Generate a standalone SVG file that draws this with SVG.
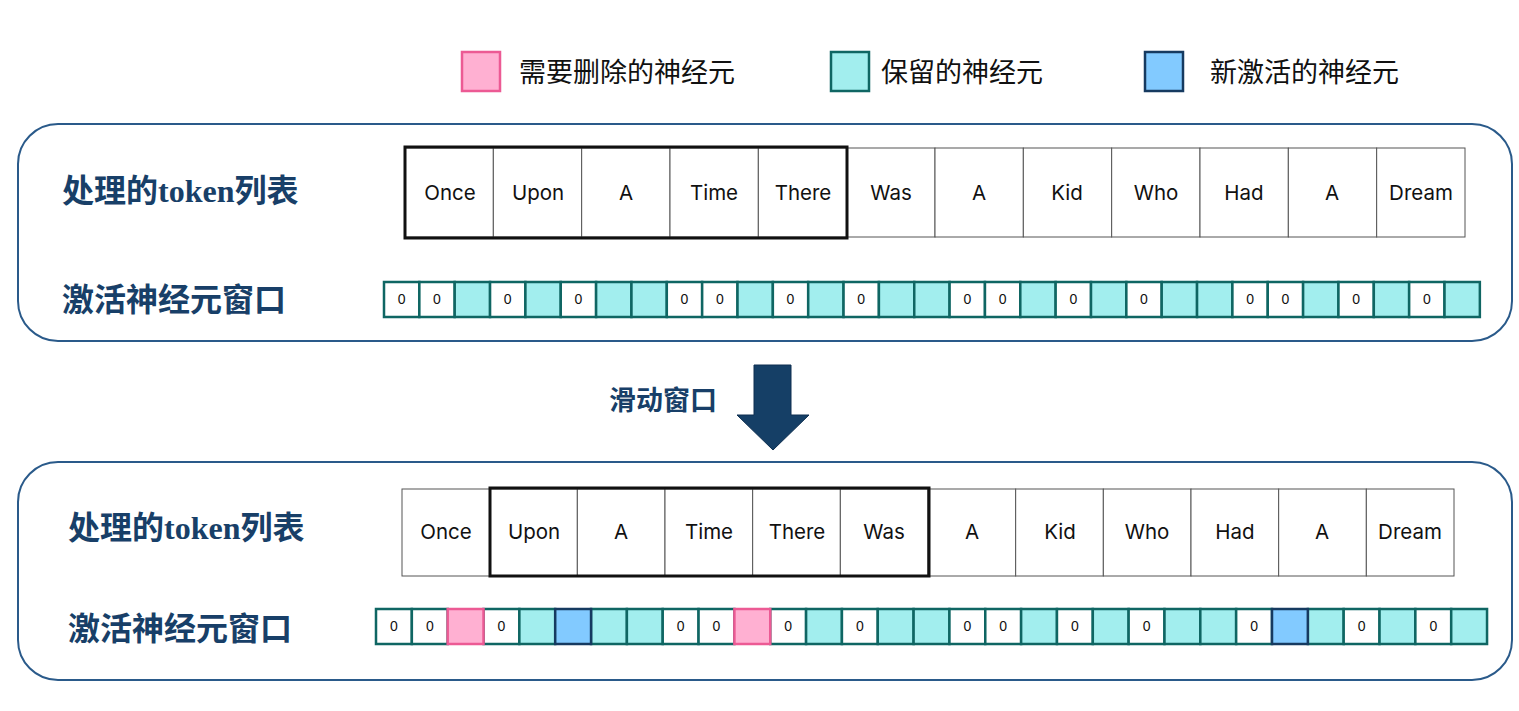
<svg xmlns="http://www.w3.org/2000/svg" width="1519" height="711" viewBox="0 0 1519 711">
<style>
.panel{fill:#fff;stroke:#2a5a8a;stroke-width:2}
.lbl{font-family:"Noto Sans CJK SC","Liberation Sans",sans-serif;font-weight:700;font-size:32px;fill:#183f68}
.tk{font-family:"Liberation Serif",serif;font-weight:700}
.leg{font-family:"Noto Sans CJK SC",sans-serif;font-size:27px;fill:#111}
.tok{fill:#fff;stroke:#555;stroke-width:1}
.tokt{font-family:Inter,"Liberation Sans",sans-serif;font-size:20.5px;fill:#111;text-anchor:middle}
.win{fill:none;stroke:#111;stroke-width:3}
.z{fill:#fff;stroke:#0f6663;stroke-width:2.5}
.t{fill:#a2eeee;stroke:#0f6663;stroke-width:2.5}
.p{fill:#ffb0d2;stroke:#ec5a94;stroke-width:2.5}
.b{fill:#82caff;stroke:#163a60;stroke-width:2.5}
.zt{font-family:"Liberation Sans",sans-serif;font-size:14px;fill:#111;text-anchor:middle}
</style>
<rect width="1519" height="711" fill="#fff"/>
<g id="legend">
<rect x="462" y="52" width="38" height="39" fill="#ffb0d2" stroke="#ec5a94" stroke-width="2.5"/>
<text class="leg" x="519" y="82">需要删除的神经元</text>
<rect x="831" y="52" width="38" height="39" fill="#a2eeee" stroke="#0f6663" stroke-width="2.5"/>
<text class="leg" x="881" y="82">保留的神经元</text>
<rect x="1145" y="52" width="38" height="39" fill="#82caff" stroke="#163a60" stroke-width="2.5"/>
<text class="leg" x="1210" y="82">新激活的神经元</text>
</g>
<g id="top-panel">
<rect class="panel" x="18" y="124" width="1494" height="217" rx="40"/>
<text class="lbl" x="62" y="202">处理的<tspan class="tk">token</tspan>列表</text>
<text class="lbl" x="62" y="311">激活神经元窗口</text>
<g id="top-tokens">
<rect class="tok" x="405" y="148" width="88.33" height="89"/>
<rect class="tok" x="493.33" y="148" width="88.33" height="89"/>
<rect class="tok" x="581.67" y="148" width="88.33" height="89"/>
<rect class="tok" x="670" y="148" width="88.33" height="89"/>
<rect class="tok" x="758.33" y="148" width="88.33" height="89"/>
<rect class="tok" x="846.67" y="148" width="88.33" height="89"/>
<rect class="tok" x="935" y="148" width="88.33" height="89"/>
<rect class="tok" x="1023.33" y="148" width="88.33" height="89"/>
<rect class="tok" x="1111.67" y="148" width="88.33" height="89"/>
<rect class="tok" x="1200" y="148" width="88.33" height="89"/>
<rect class="tok" x="1288.33" y="148" width="88.33" height="89"/>
<rect class="tok" x="1376.67" y="148" width="88.33" height="89"/>
<text class="tokt" x="450" y="200">Once</text>
<text class="tokt" x="538" y="200">Upon</text>
<text class="tokt" x="626" y="200">A</text>
<text class="tokt" x="714" y="200">Time</text>
<text class="tokt" x="803" y="200">There</text>
<text class="tokt" x="891" y="200">Was</text>
<text class="tokt" x="979" y="200">A</text>
<text class="tokt" x="1067" y="200">Kid</text>
<text class="tokt" x="1156" y="200">Who</text>
<text class="tokt" x="1244" y="200">Had</text>
<text class="tokt" x="1332" y="200">A</text>
<text class="tokt" x="1421" y="200">Dream</text>
<rect class="win" x="405" y="147" width="442" height="91"/>
</g>
<g id="top-neurons">
<rect class="z" x="384" y="282" width="35.35" height="35"/>
<rect class="z" x="419.35" y="282" width="35.35" height="35"/>
<rect class="t" x="454.7" y="282" width="35.35" height="35"/>
<rect class="z" x="490.05" y="282" width="35.35" height="35"/>
<rect class="t" x="525.4" y="282" width="35.35" height="35"/>
<rect class="z" x="560.75" y="282" width="35.35" height="35"/>
<rect class="t" x="596.1" y="282" width="35.35" height="35"/>
<rect class="t" x="631.45" y="282" width="35.35" height="35"/>
<rect class="z" x="666.8" y="282" width="35.35" height="35"/>
<rect class="z" x="702.15" y="282" width="35.35" height="35"/>
<rect class="t" x="737.5" y="282" width="35.35" height="35"/>
<rect class="z" x="772.85" y="282" width="35.35" height="35"/>
<rect class="t" x="808.2" y="282" width="35.35" height="35"/>
<rect class="z" x="843.55" y="282" width="35.35" height="35"/>
<rect class="t" x="878.9" y="282" width="35.35" height="35"/>
<rect class="t" x="914.25" y="282" width="35.35" height="35"/>
<rect class="z" x="949.6" y="282" width="35.35" height="35"/>
<rect class="z" x="984.95" y="282" width="35.35" height="35"/>
<rect class="t" x="1020.3" y="282" width="35.35" height="35"/>
<rect class="z" x="1055.65" y="282" width="35.35" height="35"/>
<rect class="t" x="1091" y="282" width="35.35" height="35"/>
<rect class="z" x="1126.35" y="282" width="35.35" height="35"/>
<rect class="t" x="1161.7" y="282" width="35.35" height="35"/>
<rect class="t" x="1197.05" y="282" width="35.35" height="35"/>
<rect class="z" x="1232.4" y="282" width="35.35" height="35"/>
<rect class="z" x="1267.75" y="282" width="35.35" height="35"/>
<rect class="t" x="1303.1" y="282" width="35.35" height="35"/>
<rect class="z" x="1338.45" y="282" width="35.35" height="35"/>
<rect class="t" x="1373.8" y="282" width="35.35" height="35"/>
<rect class="z" x="1409.15" y="282" width="35.35" height="35"/>
<rect class="t" x="1444.5" y="282" width="35.35" height="35"/>
<text class="zt" x="401.7" y="304">0</text>
<text class="zt" x="437" y="304">0</text>
<text class="zt" x="507.7" y="304">0</text>
<text class="zt" x="578.4" y="304">0</text>
<text class="zt" x="684.5" y="304">0</text>
<text class="zt" x="719.8" y="304">0</text>
<text class="zt" x="790.5" y="304">0</text>
<text class="zt" x="861.2" y="304">0</text>
<text class="zt" x="967.3" y="304">0</text>
<text class="zt" x="1002.6" y="304">0</text>
<text class="zt" x="1073.3" y="304">0</text>
<text class="zt" x="1144" y="304">0</text>
<text class="zt" x="1250.1" y="304">0</text>
<text class="zt" x="1285.4" y="304">0</text>
<text class="zt" x="1356.1" y="304">0</text>
<text class="zt" x="1426.8" y="304">0</text>
</g>
</g>
<g id="slide-arrow">
<polygon points="754,365 791,365 791,415 809,415 773,450 737,415 754,415" fill="#153f66" stroke="#0e2f50" stroke-width="1"/>
<text class="lbl" x="609" y="410" style="font-size:27px">滑动窗口</text>
</g>
<g id="bottom-panel">
<rect class="panel" x="18" y="462" width="1494" height="218" rx="40"/>
<text class="lbl" x="68" y="539">处理的<tspan class="tk">token</tspan>列表</text>
<text class="lbl" x="68" y="640">激活神经元窗口</text>
<g id="bottom-tokens">
<rect class="tok" x="402" y="489" width="87.67" height="87"/>
<rect class="tok" x="489.67" y="489" width="87.67" height="87"/>
<rect class="tok" x="577.33" y="489" width="87.67" height="87"/>
<rect class="tok" x="665" y="489" width="87.67" height="87"/>
<rect class="tok" x="752.67" y="489" width="87.67" height="87"/>
<rect class="tok" x="840.33" y="489" width="87.67" height="87"/>
<rect class="tok" x="928" y="489" width="87.67" height="87"/>
<rect class="tok" x="1015.67" y="489" width="87.67" height="87"/>
<rect class="tok" x="1103.33" y="489" width="87.67" height="87"/>
<rect class="tok" x="1191" y="489" width="87.67" height="87"/>
<rect class="tok" x="1278.67" y="489" width="87.67" height="87"/>
<rect class="tok" x="1366.33" y="489" width="87.67" height="87"/>
<text class="tokt" x="446" y="539">Once</text>
<text class="tokt" x="534" y="539">Upon</text>
<text class="tokt" x="621" y="539">A</text>
<text class="tokt" x="709" y="539">Time</text>
<text class="tokt" x="797" y="539">There</text>
<text class="tokt" x="884" y="539">Was</text>
<text class="tokt" x="972" y="539">A</text>
<text class="tokt" x="1060" y="539">Kid</text>
<text class="tokt" x="1147" y="539">Who</text>
<text class="tokt" x="1235" y="539">Had</text>
<text class="tokt" x="1322" y="539">A</text>
<text class="tokt" x="1410" y="539">Dream</text>
<rect class="win" x="490" y="488" width="439" height="88"/>
</g>
<g id="bottom-neurons">
<rect class="z" x="376" y="609" width="35.84" height="35"/>
<rect class="z" x="411.84" y="609" width="35.84" height="35"/>
<rect class="z" x="483.52" y="609" width="35.84" height="35"/>
<rect class="t" x="519.36" y="609" width="35.84" height="35"/>
<rect class="t" x="591.04" y="609" width="35.84" height="35"/>
<rect class="t" x="626.88" y="609" width="35.84" height="35"/>
<rect class="z" x="662.72" y="609" width="35.84" height="35"/>
<rect class="z" x="698.56" y="609" width="35.84" height="35"/>
<rect class="z" x="770.24" y="609" width="35.84" height="35"/>
<rect class="t" x="806.08" y="609" width="35.84" height="35"/>
<rect class="z" x="841.92" y="609" width="35.84" height="35"/>
<rect class="t" x="877.76" y="609" width="35.84" height="35"/>
<rect class="t" x="913.6" y="609" width="35.84" height="35"/>
<rect class="z" x="949.44" y="609" width="35.84" height="35"/>
<rect class="z" x="985.28" y="609" width="35.84" height="35"/>
<rect class="t" x="1021.12" y="609" width="35.84" height="35"/>
<rect class="z" x="1056.96" y="609" width="35.84" height="35"/>
<rect class="t" x="1092.8" y="609" width="35.84" height="35"/>
<rect class="z" x="1128.64" y="609" width="35.84" height="35"/>
<rect class="t" x="1164.48" y="609" width="35.84" height="35"/>
<rect class="t" x="1200.32" y="609" width="35.84" height="35"/>
<rect class="z" x="1236.16" y="609" width="35.84" height="35"/>
<rect class="t" x="1307.84" y="609" width="35.84" height="35"/>
<rect class="z" x="1343.68" y="609" width="35.84" height="35"/>
<rect class="t" x="1379.52" y="609" width="35.84" height="35"/>
<rect class="z" x="1415.36" y="609" width="35.84" height="35"/>
<rect class="t" x="1451.2" y="609" width="35.84" height="35"/>
<rect class="p" x="447.68" y="609" width="35.84" height="35"/>
<rect class="p" x="734.4" y="609" width="35.84" height="35"/>
<rect class="b" x="555.2" y="609" width="35.84" height="35"/>
<rect class="b" x="1272" y="609" width="35.84" height="35"/>
<text class="zt" x="394" y="631">0</text>
<text class="zt" x="429.8" y="631">0</text>
<text class="zt" x="501.4" y="631">0</text>
<text class="zt" x="680.6" y="631">0</text>
<text class="zt" x="716.5" y="631">0</text>
<text class="zt" x="788.2" y="631">0</text>
<text class="zt" x="859.8" y="631">0</text>
<text class="zt" x="967.4" y="631">0</text>
<text class="zt" x="1003.2" y="631">0</text>
<text class="zt" x="1074.9" y="631">0</text>
<text class="zt" x="1146.6" y="631">0</text>
<text class="zt" x="1254.1" y="631">0</text>
<text class="zt" x="1361.6" y="631">0</text>
<text class="zt" x="1433.3" y="631">0</text>
</g>
</g>
</svg>
